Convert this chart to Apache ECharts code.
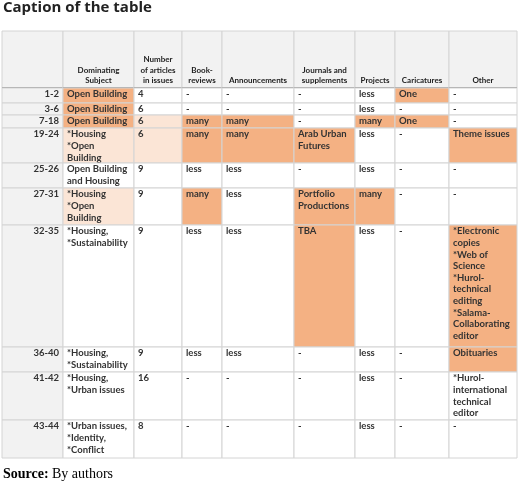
<!DOCTYPE html><html><head><meta charset="utf-8">
<script src="https://cdn.jsdelivr.net/npm/echarts@6/dist/echarts.min.js"></script>
<style>html,body{margin:0;padding:0;background:#fff}#c{width:520px;height:485px}</style></head><body><div id="c"></div>
<script>
const headers=['','Dominating\nSubject','Number\nof articles\nin issues','Book-\nreviews','Announcements','Journals and\nsupplements','Projects','Caricatures','Other'];
const issues=['1-2','3-6','7-18','19-24','25-26','27-31','32-35','36-40','41-42','43-44'];
const subject=['Open Building','Open Building','Open Building','*Housing\n*Open\nBuilding','Open Building\nand Housing','*Housing\n*Open\nBuilding','*Housing,\n*Sustainability','*Housing,\n*Sustainability','*Housing,\n*Urban issues','*Urban issues,\n*Identity,\n*Conflict'];
const articles=['4','6','6','6','9','9','9','9','16','8'];
const bookReviews=['-','-','many','many','less','many','less','less','-','-'];
const announcements=['-','-','many','many','less','less','less','less','-','-'];
const journals=['-','-','-','Arab Urban\nFutures','-','Portfolio\nProductions','TBA','-','-','-'];
const projects=['less','less','many','less','less','many','less','less','less','less'];
const caricatures=['One','-','One','-','-','-','-','-','-','-'];
const other=['-','-','-','Theme issues','-','-','*Electronic\ncopies\n*Web of\nScience\n*Hurol-\ntechnical\nediting\n*Salama-\nCollaborating\neditor','Obituaries','*Hurol-\ninternational\ntechnical\neditor','-'];
// highlight: O = orange, L = light orange, per row, columns 1..8
const highlight=['O.....O.','O.......','OLOO.OO.','LLOOO..O','........','L.O.OO..','....O..O','.......O','........','........'];
// layout (pixels)
const colEdges=[0,61,132,180,220,292,353,393,447,515];
const rowEdges=[0,57,72,84,97,132,157,194,316,341,389,427];
const columns=[issues,subject,articles,bookReviews,announcements,journals,projects,caricatures,other];
const cells=[];
for(let c=0;c<9;c++){cells.push([c,0,headers[c],'H']);}
for(let r=0;r<issues.length;r++)for(let c=0;c<9;c++){
  let h=c===0?'G':(highlight[r][c-1]||'.');
  cells.push([c,r+1,columns[c][r],h]);}
const fills={H:'#f2f2f2',G:'#f2f2f2',O:'#f4b183',L:'#fbe5d6','.':'#ffffff'};
const chart=echarts.init(document.getElementById('c'));
chart.setOption({animation:false,
 grid:{left:2,right:3,top:31,bottom:27},
 xAxis:{type:'value',min:0,max:515,show:false},
 yAxis:{type:'value',min:0,max:427,inverse:true,show:false},
 graphic:[
  {type:'text',left:3,top:0,style:{text:'Caption of the table',font:'bold 15px "Open Sans"',fill:'#222'}},
  {type:'text',left:3,top:467,style:{rich:{b:{font:'bold 14px "Liberation Serif"',fill:'#000'},n:{font:'14px "Liberation Serif"',fill:'#000'}},text:'{b|Source:} {n|By authors}'}},
  {type:'group',left:10,top:34,children:[
   {type:'rect',shape:{x:0,y:0,width:44,height:48},style:{fill:'#cbbfae'}},
   {type:'circle',shape:{cx:22,cy:26,r:13},style:{fill:'none',stroke:'#2a2520',lineWidth:5}},
   {type:'rect',shape:{x:13,y:4,width:5,height:42},style:{fill:'#2a2520'}},
   {type:'rect',shape:{x:26,y:4,width:5,height:42},style:{fill:'#2a2520'}},
   {type:'rect',shape:{x:8,y:38,width:28,height:4},style:{fill:'#2a2520'}}]}
 ],
 series:[{type:'custom',data:cells,clip:false,
  renderItem:function(params,api){
   const c=api.value(0),r=api.value(1);const d=cells[params.dataIndex];
   const p0=api.coord([colEdges[c],rowEdges[r]]),p1=api.coord([colEdges[c+1],rowEdges[r+1]]);
   const w=p1[0]-p0[0],h=p1[1]-p0[1];
   const isH=r===0;
   const ch=[{type:'rect',shape:{x:p0[0],y:p0[1],width:w,height:h},style:{fill:fills[d[3]],stroke:'#d4d4d4',lineWidth:1}}];
   if(isH){ch.push({type:'line',shape:{x1:p0[0],y1:p1[1],x2:p1[0],y2:p1[1]},style:{stroke:'#9a9a9a',lineWidth:2}});}
   let tx,ty,align,va='top';
   if(isH){tx=p0[0]+w/2;ty=p1[1]-2;align='center';va='bottom';}
   else if(c===0){tx=p1[0]-4;ty=p0[1]+0.5;align='right';}
   else{tx=p0[0]+4;ty=p0[1]+0.5;align='left';}
   ch.push({type:'text',style:{x:tx,y:ty,text:d[2],align:align,verticalAlign:va,font:'bold '+(isH?'8px':'9.5px')+' Lato',lineHeight:isH?10.5:11.6,fill:isH?'#222':'#333'}});
   return {type:'group',children:ch};
  }}]
});
</script></body></html>
